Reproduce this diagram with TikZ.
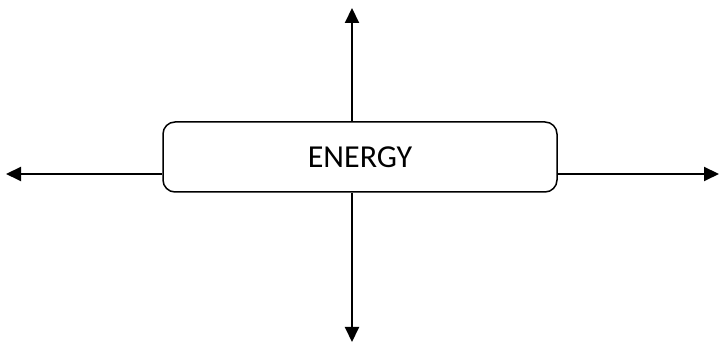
\documentclass[tikz,border=0pt]{standalone}
\usepackage{fontspec}
\setmainfont{Carlito}
\usetikzlibrary{arrows.meta}
\begin{document}
\begin{tikzpicture}[x=1pt,y=1pt,
  box/.style={draw, line width=1.5pt, rounded corners=12pt, minimum width=394pt, minimum height=70pt, inner sep=0pt, font=\fontsize{32}{32}\selectfont},
  arr/.style={line width=2pt, -{Triangle[length=15pt,width=14pt]}}]
\useasboundingbox (0,0) rectangle (721,344);
\node[box] (e) at (360,187) {\raisebox{-1pt}{ENERGY}};
\coordinate (top) at (352,336);
\coordinate (bot) at (352,2);
\coordinate (lft) at (6,170);
\coordinate (rgt) at (719,170);
\draw[arr] (e.north -| top) -- (top);
\draw[arr] (e.south -| bot) -- (bot);
\draw[arr] (e.west |- lft) -- (lft);
\draw[arr] (e.east |- rgt) -- (rgt);
\end{tikzpicture}
\end{document}
